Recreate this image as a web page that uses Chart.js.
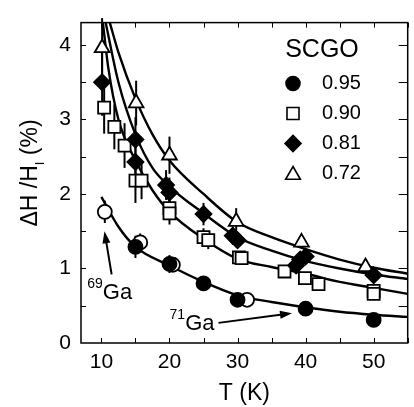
<!DOCTYPE html>
<html>
<head>
<meta charset="utf-8">
<script src="https://cdn.jsdelivr.net/npm/chart.js@4/dist/chart.umd.min.js"></script>
<style>
  html, body { margin: 0; padding: 0; background: #fff; overflow: hidden; }
  #wrap { width: 418px; height: 407px; }
</style>
</head>
<body>
<div id="wrap"><canvas id="grafico" width="418" height="407"></canvas></div>
<script>
const FONT = "'Liberation Sans', Arial, Helvetica, sans-serif";

// SCGO 0.95 (71Ga, relleno)
const t95 = [15, 20, 25, 30, 40, 50];
const v95 = [1.29, 1.06, 0.80, 0.58, 0.46, 0.31];
const e95 = [0.15, 0.12, 0.05, 0.04, 0.03, 0.02];

// 69Ga (círculo abierto)
const t69 = [10.5, 15.7, 20.5, 31.4];
const v69 = [1.76, 1.35, 1.05, 0.58];
const e69 = [0.15, 0.12, 0.05, 0.03];

// SCGO 0.90
const t90 = [10.4, 11.9, 13.4, 15.0, 15.9, 20.0, 20.0, 25.0, 25.7, 30.2, 30.6, 36.9, 39.9, 41.9, 50.0, 50.0];
const v90 = [3.16, 2.90, 2.65, 2.18, 2.18, 1.81, 1.74, 1.42, 1.38, 1.15, 1.14, 0.96, 0.87, 0.79, 0.70, 0.66];
const e90 = [0.35, 0.3, 0.3, 0.3, 0.25, 0.15, 0.15, 0.12, 0.12, 0.08, 0.08, 0.06, 0.06, 0.05, 0.05, 0.05];

// SCGO 0.81
const t81 = [10.1, 15.0, 15.0, 19.5, 20.0, 25.0, 29.3, 30.0, 38.6, 39.2, 40.0, 50.0];
const v81 = [3.50, 2.73, 2.43, 2.12, 2.02, 1.73, 1.44, 1.38, 1.04, 1.12, 1.16, 0.91];
const e81 = [0.45, 0.3, 0.2, 0.2, 0.2, 0.15, 0.12, 0.1, 0.08, 0.08, 0.08, 0.05];

// SCGO 0.72
const t72 = [10.1, 15.1, 20.0, 29.8, 39.4, 48.8];
const v72 = [3.96, 3.22, 2.52, 1.63, 1.35, 1.02];
const e72 = [0.4, 0.3, 0.25, 0.18, 0.06, 0.05];

// curvas de ajuste
const tFit72 = [11.2, 12.5, 15, 17.5, 20, 25, 30, 35, 40, 45, 50, 55];
const vFit72 = [4.31, 3.9, 3.28, 2.8, 2.45, 2.0, 1.62, 1.42, 1.26, 1.12, 1.01, 0.93];
const tFit81 = [10.6, 12.5, 15, 17.5, 20, 25, 30, 35, 40, 45, 50, 55];
const vFit81 = [4.31, 3.5, 2.8, 2.35, 2.1, 1.74, 1.42, 1.24, 1.10, 1.0, 0.92, 0.86];
const tFit90 = [10.2, 11, 12.5, 15, 17.5, 20, 25, 30, 35, 40, 45, 50, 55];
const vFit90 = [4.31, 3.7, 3.0, 2.45, 2.05, 1.76, 1.40, 1.13, 1.02, 0.93, 0.82, 0.74, 0.66];
const tFit95 = [10, 12.5, 15, 20, 25, 30, 35, 40, 45, 50, 55];
const vFit95 = [1.96, 1.56, 1.29, 1.04, 0.82, 0.64, 0.55, 0.48, 0.42, 0.38, 0.35];

const xTickLabels = [10, 20, 30, 40, 50];
const yTickLabels = [0, 1, 2, 3, 4];
const legendLabels = ["0.95", "0.90", "0.81", "0.72"];

const pts = (xs, ys) => xs.map((x, i) => ({ x, y: ys[i] }));
const enLista = (lista, v) => lista.find(n => Math.abs(n - v) < 1e-6);

function serie(xs, ys, errs, style, radius, fill) {
  return {
    type: "scatter",
    data: pts(xs, ys),
    errores: errs,
    pointStyle: style,
    pointRadius: radius,
    pointHoverRadius: radius,
    backgroundColor: fill,
    borderColor: "#000",
    borderWidth: 1.8
  };
}

function curva(xs, ys) {
  return {
    type: "line",
    data: pts(xs, ys),
    borderColor: "#000",
    borderWidth: 2.4,
    pointRadius: 0,
    fill: false,
    cubicInterpolationMode: "monotone"
  };
}

// barras de error + ticks hacia adentro + textos
const extras = {
  id: "extras",
  beforeDatasetsDraw(chart) {
    const { ctx, scales: { x, y } } = chart;
    ctx.save();
    ctx.strokeStyle = "#000";
    ctx.lineWidth = 2;
    chart.data.datasets.forEach(ds => {
      if (!ds.errores) return;
      ds.data.forEach((p, i) => {
        const px = x.getPixelForValue(p.x);
        ctx.beginPath();
        ctx.moveTo(px, y.getPixelForValue(p.y - ds.errores[i]));
        ctx.lineTo(px, y.getPixelForValue(p.y + ds.errores[i]));
        ctx.stroke();
      });
    });
    ctx.restore();
  },
  afterDraw(chart) {
    const { ctx, chartArea: a, scales: { x, y } } = chart;
    ctx.save();
    ctx.strokeStyle = "#000";
    ctx.fillStyle = "#000";
    ctx.lineWidth = 1.5;
    // marco
    ctx.strokeRect(a.left, a.top, a.right - a.left, a.bottom - a.top);
    // ticks
    ctx.lineWidth = 1;
    ctx.beginPath();
    for (let t = 10; t <= 55; t += 5) {
      const px = Math.round(x.getPixelForValue(t)) + 0.5;
      ctx.moveTo(px, a.bottom); ctx.lineTo(px, a.bottom - 5);
      ctx.moveTo(px, a.top); ctx.lineTo(px, a.top + 5);
    }
    for (let v = 0.5; v <= 4.0; v += 0.5) {
      const py = Math.round(y.getPixelForValue(v)) + 0.5;
      ctx.moveTo(a.left, py); ctx.lineTo(a.left + 5, py);
      ctx.moveTo(a.right, py); ctx.lineTo(a.right - 9, py);
    }
    ctx.stroke();

    // título eje y con subíndice
    ctx.save();
    ctx.translate(31, 173);
    ctx.rotate(-Math.PI / 2);
    ctx.textBaseline = "middle";
    const p1 = "\u0394H /H", p3 = " (%)";
    ctx.font = "23px " + FONT;
    const w1 = ctx.measureText(p1).width;
    ctx.font = "13px " + FONT;
    const w2 = ctx.measureText("I").width;
    ctx.font = "23px " + FONT;
    const w3 = ctx.measureText(p3).width;
    const sx = -(w1 + w2 + w3) / 2;
    ctx.fillText(p1, sx, 0);
    ctx.font = "13px " + FONT;
    ctx.fillText("I", sx + w1, 9);
    ctx.font = "23px " + FONT;
    ctx.fillText(p3, sx + w1 + w2, 0);
    ctx.restore();

    // leyenda
    ctx.font = "25px " + FONT;
    ctx.textAlign = "center";
    ctx.textBaseline = "alphabetic";
    ctx.fillText("SCGO", 322, 57);
    const estilos = [["circle", 7, "#000"], ["rect", 8.5, "#fff"], ["rectRot", 8, "#000"], ["triangle", 8.5, "#fff"]];
    ctx.font = "20px " + FONT;
    ctx.textAlign = "left";
    legendLabels.forEach((lab, i) => {
      const cy = 83.5 + i * 30;
      ctx.lineWidth = 1.6;
      ctx.fillStyle = estilos[i][2];
      Chart.helpers.drawPoint(ctx, { pointStyle: estilos[i][0], radius: estilos[i][1], borderWidth: 1.6 }, 293, cy + (estilos[i][0] === "triangle" ? 1.5 : 0));
      ctx.fillStyle = "#000";
      ctx.fillText(lab, 322, cy + 5.5);
    });

    // anotaciones 69Ga / 71Ga
    function flecha(x0, y0, x1, y1) {
      const ax = x.getPixelForValue(x0), ay = y.getPixelForValue(y0);
      const bx = x.getPixelForValue(x1), by = y.getPixelForValue(y1);
      const ang = Math.atan2(by - ay, bx - ax);
      ctx.lineWidth = 2;
      ctx.beginPath();
      ctx.moveTo(ax, ay);
      ctx.lineTo(bx - 8 * Math.cos(ang), by - 8 * Math.sin(ang));
      ctx.stroke();
      ctx.beginPath();
      ctx.moveTo(bx, by);
      ctx.lineTo(bx - 12 * Math.cos(ang) + 4 * Math.sin(ang), by - 12 * Math.sin(ang) - 4 * Math.cos(ang));
      ctx.lineTo(bx - 12 * Math.cos(ang) - 4 * Math.sin(ang), by - 12 * Math.sin(ang) + 4 * Math.cos(ang));
      ctx.closePath();
      ctx.fill();
    }
    function isotopo(num, tx, vy) {
      const px = x.getPixelForValue(tx), py = y.getPixelForValue(vy);
      ctx.textAlign = "left";
      ctx.font = "14px " + FONT;
      const wn = ctx.measureText(num).width;
      ctx.fillText(num, px - wn, py - 11);
      ctx.font = "22px " + FONT;
      ctx.fillText("Ga", px, py);
    }
    ctx.fillStyle = "#000";
    flecha(11.5, 0.92, 10.45, 1.50);
    isotopo("69", 10.2, 0.59);
    flecha(27.2, 0.27, 38.0, 0.40);
    isotopo("71", 22.3, 0.17);
    ctx.restore();
  }
};

new Chart(document.getElementById("grafico").getContext("2d"), {
  data: {
    datasets: [
      serie(t95, v95, e95, "circle", 7, "#000"),
      serie(t69, v69, e69, "circle", 7, "#fff"),
      serie(t81, v81, e81, "rectRot", 8, "#000"),
      serie(t90, v90, e90, "rect", 8.5, "#fff"),
      serie(t72, v72, e72, "triangle", 8.5, "#fff"),
      curva(tFit72, vFit72),
      curva(tFit81, vFit81),
      curva(tFit90, vFit90),
      curva(tFit95, vFit95)
    ]
  },
  options: {
    responsive: false,
    animation: false,
    layout: { padding: { top: 10, right: 1, left: 0, bottom: 0 } },
    plugins: { legend: { display: false }, tooltip: { enabled: false } },
    scales: {
      x: {
        type: "linear",
        min: 7,
        max: 55,
        grid: { display: false, drawTicks: false },
        border: { display: false },
        afterFit: s => { s.height = 64; },
        ticks: {
          stepSize: 5,
          includeBounds: false,
          padding: 7,
          color: "#000",
          font: { family: FONT, size: 21 },
          callback: v => enLista(xTickLabels, v) !== undefined ? String(enLista(xTickLabels, v)) : ""
        },
        title: {
          display: true,
          text: "T (K)",
          color: "#000",
          font: { family: FONT, size: 23 },
          padding: { top: 0, bottom: 0 }
        }
      },
      y: {
        type: "linear",
        min: 0,
        max: 4.3,
        grid: { display: false, drawTicks: false },
        border: { display: false },
        afterFit: s => { s.width = 81; },
        ticks: {
          stepSize: 0.5,
          includeBounds: false,
          padding: 10,
          color: "#000",
          font: { family: FONT, size: 21 },
          callback: v => enLista(yTickLabels, v) !== undefined ? String(enLista(yTickLabels, v)) : ""
        }
      }
    }
  },
  plugins: [extras]
});
</script>
</body>
</html>
